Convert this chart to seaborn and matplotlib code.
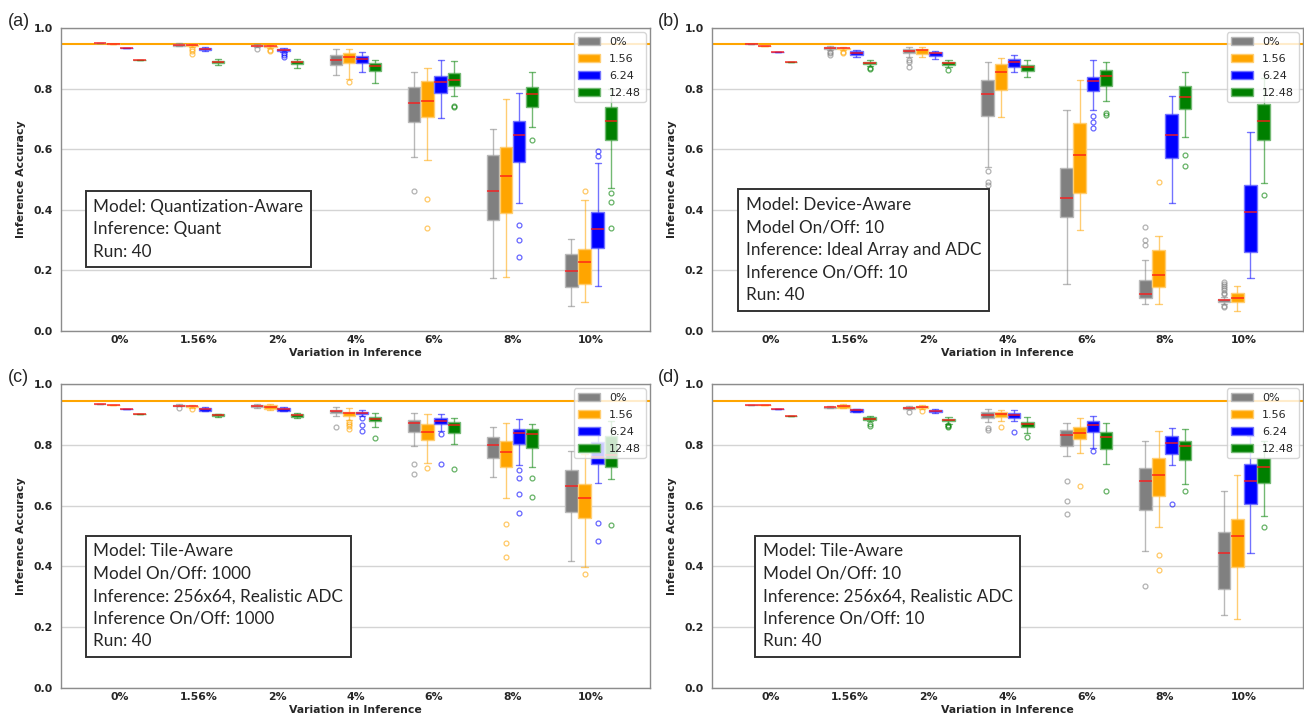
import matplotlib
matplotlib.use("Agg")
import matplotlib.pyplot as plt
from matplotlib.colors import to_rgb
from matplotlib.patches import Patch
import pandas as pd
import seaborn as sns

# x categories: device variation applied at inference
VARIATIONS = ["0%", "1.56%", "2%", "4%", "6%", "8%", "10%"]
# hue levels: variation used while training
TRAIN_LEVELS = ["0%", "1.56", "6.24", "12.48"]
COLORS = ["#808080", "#ffa500", "#0000ff", "#008000"]

# Per box: (lower whisker, Q1, median, Q3, upper whisker, outliers);
# a single number means every run gave the same accuracy.
QA_0 = [0.949, (.939, .942, .945, .948, .950, []), (.937, .940, .942, .945, .948, [.930]),
        (.845, .878, .893, .910, .930, []), (.573, .691, .751, .806, .856, [.463]),
        (.176, .366, .461, .580, .668, []), (.081, .145, .197, .253, .305, [])]
QA_156 = [0.947, (.937, .941, .944, .946, .948, [.930, .924, .914]),
          (.934, .937, .939, .942, .945, [.928, .924]),
          (.833, .883, .904, .917, .930, [.821]), (.563, .705, .760, .824, .869, [.437, .340]),
          (.179, .389, .512, .606, .765, []), (.095, .156, .229, .272, .431, [.463])]
QA_624 = [0.934, (.923, .926, .930, .934, .937, []),
          (.921, .925, .928, .930, .935, [.916, .912, .905]),
          (.855, .886, .898, .908, .922, []), (.702, .784, .822, .843, .895, []),
          (.421, .558, .647, .693, .784, [.351, .300, .243]),
          (.150, .274, .338, .394, .554, [.593, .576])]
QA_1248 = [0.893, (.877, .883, .887, .891, .897, []), (.869, .882, .887, .892, .898, []),
           (.820, .857, .873, .884, .895, []), (.774, .809, .827, .851, .890, [.743, .739]),
           (.672, .738, .783, .804, .855, [.629]),
           (.472, .629, .692, .738, .800, [.454, .427, .340])]

DA_0 = [0.946, (.927, .932, .934, .937, .941, [.922, .917, .912]),
        (.905, .917, .924, .930, .937, [.893, .889, .870]),
        (.540, .710, .781, .828, .887, [.528, .493, .482]),
        (.154, .376, .438, .538, .728, []),
        (.089, .108, .121, .167, .235, [.342, .301, .285]),
        (.090, .097, .102, .106, .112, [.162, .155, .148, .141, .134, .127, .122, .082, .078])]
DA_156 = [0.940, (.927, .930, .933, .935, .937, [.921, .916]), (.904, .915, .926, .932, .936, []),
          (.705, .795, .854, .880, .900, []), (.334, .455, .580, .686, .827, []),
          (.088, .146, .184, .268, .312, [.491]), (.065, .096, .108, .124, .147, [])]
DA_624 = [0.921, (.905, .912, .918, .923, .927, []), (.899, .909, .916, .921, .925, []),
          (.854, .871, .888, .898, .910, []), (.728, .793, .824, .838, .893, [.711, .690, .670]),
          (.421, .571, .648, .717, .774, []), (.174, .261, .393, .483, .656, [])]
DA_1248 = [0.889, (.876, .881, .885, .888, .894, [.869, .864]),
           (.870, .878, .884, .888, .893, [.860]), (.839, .858, .870, .879, .893, []),
           (.758, .809, .843, .860, .887, [.720, .714]),
           (.639, .734, .772, .810, .856, [.580, .546]), (.488, .630, .692, .748, .835, [.449])]

TA1000_0 = [0.933, (.926, .928, .929, .931, .933, [.922]), (.921, .923, .928, .932, .935, []),
            (.894, .904, .911, .916, .923, [.860]), (.796, .843, .871, .883, .904, [.737, .703]),
            (.693, .757, .798, .825, .857, []), (.417, .578, .664, .716, .781, [])]
TA1000_156 = [0.932, (.922, .925, .926, .928, .930, [.918]), (.916, .919, .925, .930, .934, []),
              (.883, .896, .903, .908, .920, [.876, .870, .863, .853]),
              (.741, .816, .841, .868, .900, [.724]),
              (.625, .728, .775, .811, .873, [.539, .478, .432]),
              (.399, .560, .624, .672, .770, [.376])]
TA1000_624 = [0.919, (.910, .912, .917, .922, .924, []), (.910, .912, .917, .921, .924, []),
              (.894, .901, .905, .908, .915, [.888, .866, .844]),
              (.846, .868, .879, .888, .900, [.836, .737]),
              (.732, .802, .840, .853, .884, [.717, .692, .639, .575]),
              (.674, .737, .760, .809, .860, [.543, .484])]
TA1000_1248 = [0.900, (.892, .894, .898, .900, .902, []), (.888, .893, .898, .902, .906, []),
               (.858, .877, .885, .891, .905, [.823]), (.802, .838, .866, .875, .887, [.721]),
               (.726, .788, .834, .851, .870, [.690, .629]),
               (.689, .727, .765, .830, .878, [.536])]

TA10_0 = [0.932, (.920, .921, .924, .925, .926, []), (.917, .919, .922, .925, .927, [.908]),
          (.875, .888, .898, .908, .917, [.855, .850]),
          (.763, .796, .831, .848, .871, [.680, .615, .572]),
          (.450, .586, .680, .723, .811, [.336]), (.239, .326, .443, .514, .647, [])]
TA10_156 = [0.930, (.920, .921, .926, .931, .933, []), (.918, .921, .924, .927, .930, [.910]),
            (.879, .891, .902, .909, .913, [.860]), (.772, .818, .839, .860, .887, [.663]),
            (.529, .633, .701, .757, .846, [.439, .388]), (.227, .399, .500, .556, .700, [])]
TA10_624 = [0.918, (.907, .909, .913, .917, .918, []), (.906, .908, .912, .914, .917, []),
            (.878, .889, .897, .904, .914, [.842]), (.790, .841, .866, .879, .895, [.781]),
            (.734, .770, .805, .829, .854, [.604]), (.445, .604, .682, .738, .830, [])]
TA10_1248 = [0.896, (.877, .882, .886, .890, .895, [.868, .863]),
             (.870, .877, .881, .884, .890, [.865, .861, .857]),
             (.839, .857, .868, .876, .891, [.825]), (.736, .787, .825, .841, .871, [.649]),
             (.671, .749, .796, .813, .851, [.647]), (.565, .675, .728, .755, .814, [.530])]

# accuracy of the unperturbed reference model
BASELINES = [0.946, 0.946, 0.943, 0.943]

PANEL_TAGS = ["(a)", "(b)", "(c)", "(d)"]
PANEL_NOTES = [
    ["Model: Quantization-Aware", "Inference: Quant", "Run: 40"],
    ["Model: Device-Aware", "Model On/Off: 10", "Inference: Ideal Array and ADC",
     "Inference On/Off: 10", "Run: 40"],
    ["Model: Tile-Aware", "Model On/Off: 1000", "Inference: 256x64, Realistic ADC",
     "Inference On/Off: 1000", "Run: 40"],
    ["Model: Tile-Aware", "Model On/Off: 10", "Inference: 256x64, Realistic ADC",
     "Inference On/Off: 10", "Run: 40"],
]
PANEL_SERIES = [
    [QA_0, QA_156, QA_624, QA_1248],
    [DA_0, DA_156, DA_624, DA_1248],
    [TA1000_0, TA1000_156, TA1000_624, TA1000_1248],
    [TA10_0, TA10_156, TA10_624, TA10_1248],
]


def expand(stats, reps=40):
    """Turn a five-number summary plus outliers into runs that reproduce it."""
    if not isinstance(stats, tuple):
        stats = (stats,) * 5 + ([],)
    lo, q1, med, q3, hi, out = stats
    return [lo] + [q1] * reps + [med] * reps + [q3] * reps + [hi] + list(out)


def lighten(color, amount):
    r, g, b = to_rgb(color)
    return (r + (1 - r) * amount, g + (1 - g) * amount, b + (1 - b) * amount)


sns.set_style("whitegrid")
plt.rcParams["font.family"] = ["DejaVu Sans"]

W, H = 1304, 714
fig = plt.figure(figsize=(W / 100, H / 100), dpi=100)

# axes boxes in pixels: left, top, right, bottom
AX_PX = [(61, 28, 650, 331), (712, 28, 1303, 331),
         (61, 384, 650, 688), (712, 384, 1303, 688)]
NOTE_POS = [(0.0547, 0.437), (0.057, 0.442), (0.0547, 0.476), (0.0858, 0.476)]
TAG_PX = [(8, 21), (658, 21), (8, 378), (658, 378)]

for p in range(4):
    l, t, r, b = AX_PX[p]
    ax = fig.add_axes([l / W, 1 - b / H, (r - l) / W, (b - t) / H])

    rows = []
    for level, series in zip(TRAIN_LEVELS, PANEL_SERIES[p]):
        for var, st in zip(VARIATIONS, series):
            for v in expand(st):
                rows.append((var, level, v))
    df = pd.DataFrame(rows, columns=["variation", "training", "accuracy"])

    palette = dict(zip(TRAIN_LEVELS, COLORS))
    for level, color in zip(TRAIN_LEVELS, COLORS):
        sub = df[df["training"] == level]
        sns.boxplot(
            data=sub, x="variation", y="accuracy", hue="training",
            order=VARIATIONS, hue_order=TRAIN_LEVELS, palette=palette,
            dodge=True, width=0.67, gap=0.06, whis=1.5, saturation=1,
            linewidth=1, linecolor=color, legend=False, ax=ax,
            boxprops=dict(edgecolor=lighten(color, 0.45), linewidth=1),
            whiskerprops=dict(alpha=0.55),
            capprops=dict(alpha=0.55),
            medianprops=dict(color="#ff1a1a", linewidth=1.1, alpha=0.9),
            flierprops=dict(marker="o", markersize=3.5, markerfacecolor="none",
                            markeredgecolor=color, markeredgewidth=0.9, alpha=0.6),
        )

    ax.axhline(BASELINES[p], color="#ffa500", lw=1.5, zorder=1.5)

    ax.set_xlim(-0.75, 6.75)
    ax.set_ylim(0, 1.0)
    ax.set_yticks([0, 0.2, 0.4, 0.6, 0.8, 1.0])
    ax.set_yticklabels(["0.0", "0.2", "0.4", "0.6", "0.8", "1.0"])
    ax.grid(axis="x", visible=False)
    ax.grid(axis="y", color="#d4d4d4", lw=1)
    ax.set_axisbelow(True)
    for sp in ax.spines.values():
        sp.set_color("#8c8c8c")
        sp.set_linewidth(1)
    ax.tick_params(axis="y", length=3, width=0.8, color="#555555", pad=3, labelsize=7.8)
    ax.tick_params(axis="x", length=0, pad=3, labelsize=7.8)
    for lab in ax.get_xticklabels() + ax.get_yticklabels():
        lab.set_fontweight("bold")
    ax.set_xlabel("Variation in Inference", fontsize=7.8, fontweight="bold", labelpad=2)
    ax.set_ylabel("Inference Accuracy", fontsize=7.8, fontweight="bold", labelpad=5)

    handles = [Patch(facecolor=c, edgecolor=lighten(c, 0.45)) for c in COLORS]
    ax.legend(handles, TRAIN_LEVELS, loc="upper right", fontsize=8,
              framealpha=0.8, borderaxespad=0.4, labelspacing=0.62)

    nx, ny = NOTE_POS[p]
    ax.text(nx, ny, "\n".join(PANEL_NOTES[p]), transform=ax.transAxes,
            ha="left", va="top", fontsize=12.3, family=["Lato", "DejaVu Sans"],
            linespacing=1.5, zorder=6,
            bbox=dict(boxstyle="square,pad=0.45", facecolor="white",
                      edgecolor="#333333", linewidth=1.4))

    tx, ty = TAG_PX[p]
    fig.text(tx / W, 1 - ty / H, PANEL_TAGS[p], fontsize=13,
             family=["Liberation Sans", "DejaVu Sans"], ha="left", va="center")

fig.savefig("out.png", dpi=100)
